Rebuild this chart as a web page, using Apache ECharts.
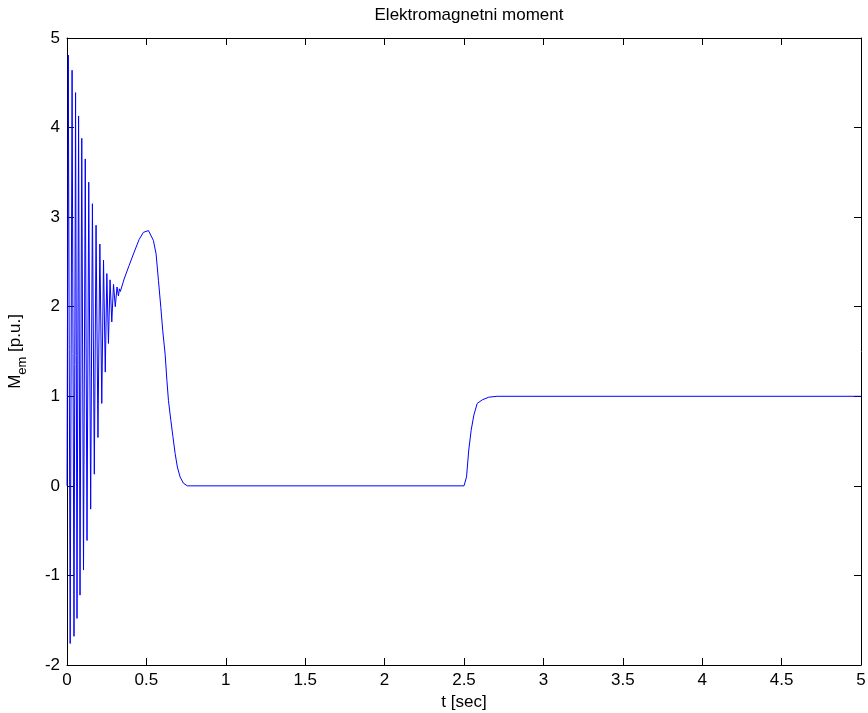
<!DOCTYPE html>
<html>
<head>
<meta charset="utf-8">
<title>Elektromagnetni moment</title>
<script src="https://cdn.jsdelivr.net/npm/echarts@6/dist/echarts.min.js"></script>
<style>
  html, body { margin: 0; padding: 0; background: #ffffff; }
  #chart { width: 868px; height: 713px; }
</style>
</head>
<body>
<div id="chart"></div>
<script>
// Electromagnetic torque during a direct-on-line start, then load removal/reapplication.
// Time samples [s]
const timeSec = [
  0, 0.008, 0.020, 0.032, 0.044, 0.054, 0.063, 0.073, 0.082, 0.093, 0.104,
  0.115, 0.126, 0.137, 0.149, 0.160, 0.172, 0.183, 0.195, 0.207, 0.219,
  0.230, 0.241, 0.251, 0.261, 0.271, 0.282, 0.293, 0.304, 0.315, 0.324,
  0.330, 0.336, 0.360, 0.391, 0.423, 0.454, 0.481, 0.513, 0.544, 0.561,
  0.576, 0.591, 0.603, 0.618, 0.629, 0.639, 0.654, 0.667, 0.681, 0.695,
  0.712, 0.733, 0.758, 0.780, 2.500, 2.503, 2.516, 2.530, 2.545, 2.562,
  2.583, 2.615, 2.656, 2.709, 5.000
];
// Torque M_em [p.u.]
const torquePu = [
  0, 4.81, -1.76, 4.64, -1.68, 4.39, -1.48, 4.13, -1.22, 3.88, -0.94,
  3.65, -0.61, 3.39, -0.26, 3.15, 0.13, 2.91, 0.54, 2.70, 0.92,
  2.52, 1.27, 2.37, 1.59, 2.30, 1.83, 2.25, 2.00, 2.22, 2.12,
  2.20, 2.17, 2.31, 2.46, 2.61, 2.75, 2.83, 2.85, 2.74, 2.59,
  2.29, 1.99, 1.73, 1.47, 1.18, 0.95, 0.73, 0.55, 0.36, 0.21,
  0.10, 0.03, 0.00, 0.00, 0.00, 0.00, 0.10, 0.40, 0.62, 0.79,
  0.92, 0.96, 0.99, 1.00, 1.00
];

const xTicks = { min: 0, max: 5, step: 0.5 };
const yTicks = { min: -2, max: 5, step: 1 };

const seriesData = timeSec.map((t, i) => [t, torquePu[i]]);

const FONT = '"Liberation Sans", Arial, Helvetica, sans-serif';
const BLACK = '#000000';
const FS = 17;

function baseAxis(range, showLabels, position) {
  return {
    type: 'value',
    position: position,
    min: range.min,
    max: range.max,
    interval: range.step,
    axisLine: { show: true, onZero: false, lineStyle: { color: BLACK, width: 1 } },
    axisTick: { show: true, inside: true, length: 7, lineStyle: { color: BLACK, width: 1 } },
    splitLine: { show: false },
    axisLabel: {
      show: showLabels,
      color: BLACK,
      fontFamily: FONT,
      fontSize: FS,
      margin: 7
    }
  };
}

const chart = echarts.init(document.getElementById('chart'), null, { renderer: 'canvas' });

const xBottom = Object.assign(baseAxis(xTicks, true, 'bottom'), {
  name: 't [sec]',
  nameLocation: 'middle',
  nameGap: 27,
  nameTextStyle: { color: BLACK, fontFamily: FONT, fontSize: FS }
});
const xTop = baseAxis(xTicks, false, 'top');

const yLeft = Object.assign(baseAxis(yTicks, true, 'left'), {
  name: '{m|M}{sub|em}{m| [p.u.]}',
  nameLocation: 'middle',
  nameRotate: 90,
  nameGap: 40,
  nameTextStyle: {
    color: BLACK,
    fontFamily: FONT,
    rich: {
      m: { fontSize: FS, fontFamily: FONT, color: BLACK, verticalAlign: 'top', lineHeight: 20 },
      sub: { fontSize: 13, fontFamily: FONT, color: BLACK, verticalAlign: 'top', padding: [9, 0, 0, 0], lineHeight: 15 }
    }
  }
});
const yRight = baseAxis(yTicks, false, 'right');

chart.setOption({
  animation: false,
  backgroundColor: '#ffffff',
  title: {
    text: 'Elektromagnetni moment',
    left: 464,
    textAlign: 'center',
    top: 2,
    textStyle: { color: BLACK, fontFamily: FONT, fontSize: FS, fontWeight: 'normal' }
  },
  grid: {
    left: 67, right: 7, top: 38, bottom: 48,
    containLabel: false,
    outerBoundsMode: 'none'
  },
  xAxis: [xBottom, xTop],
  yAxis: [yLeft, yRight],
  series: [{
    type: 'line',
    data: seriesData,
    xAxisIndex: 0,
    yAxisIndex: 0,
    showSymbol: false,
    symbol: 'none',
    smooth: false,
    lineStyle: { color: '#0000ff', width: 1 },
    clip: true
  }]
});
</script>
</body>
</html>
